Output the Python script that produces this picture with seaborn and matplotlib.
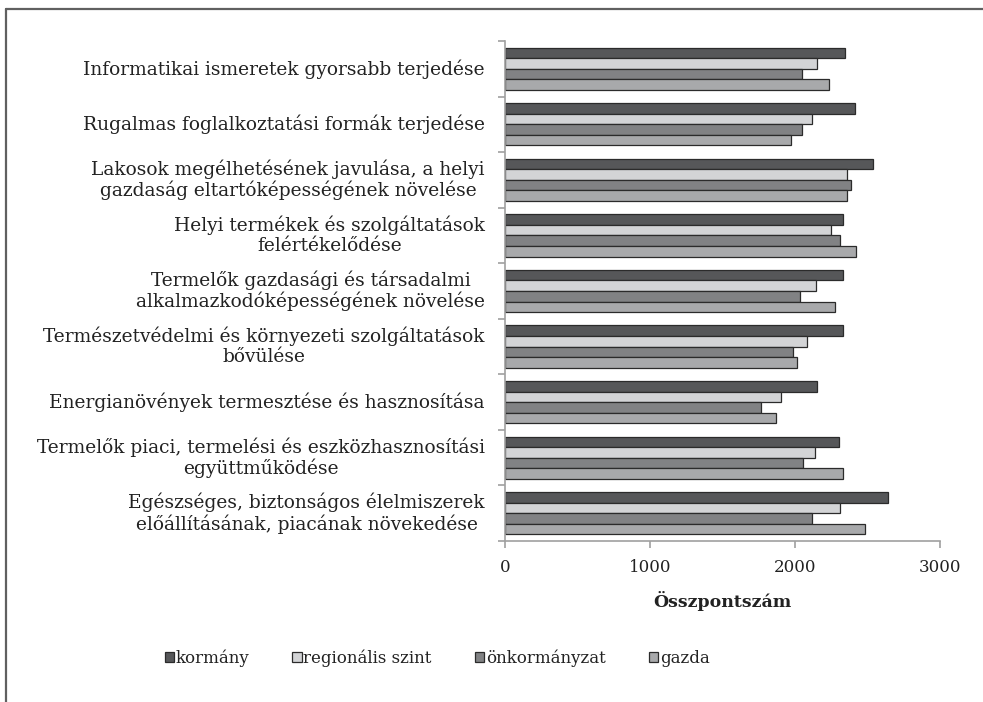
import pandas as pd
import seaborn as sns
import matplotlib.pyplot as plt
from matplotlib.lines import Line2D

categories = [
    "Informatikai ismeretek gyorsabb terjedése",
    "Rugalmas foglalkoztatási formák terjedése",
    "Lakosok megélhetésének javulása, a helyi\ngazdaság eltartóképességének növelése",
    "Helyi termékek és szolgáltatások\nfelértékelődése",
    "Termelők gazdasági és társadalmi\nalkalmazkodóképességének növelése",
    "Természetvédelmi és környezeti szolgáltatások\nbővülése",
    "Energianövények termesztése és hasznosítása",
    "Termelők piaci, termelési és eszközhasznosítási\negyüttműködése",
    "Egészséges, biztonságos élelmiszerek\nelőállításának, piacának növekedése",
]
series = ["kormány", "regionális szint", "önkormányzat", "gazda"]

kormany = [2347, 2414, 2540, 2329, 2329, 2329, 2154, 2301, 2644]
regionalis = [2154, 2117, 2356, 2246, 2145, 2080, 1906, 2136, 2313]
onkormanyzat = [2050, 2050, 2384, 2310, 2034, 1989, 1766, 2053, 2117]
gazda = [2237, 1970, 2356, 2421, 2274, 2017, 1869, 2329, 2485]

colors = ["#555759", "#d3d4d6", "#808285", "#a7a9ac"]

df = pd.DataFrame({
    "kategoria": categories * 4,
    "sorozat": [s for s in series for _ in categories],
    "ertek": kormany + regionalis + onkormanyzat + gazda,
})

sns.set_style("white")
plt.rcParams["font.family"] = ["DejaVu Serif", "Liberation Serif"]

fig = plt.figure(figsize=(9.83, 7.02), dpi=100)
ax = fig.add_axes([505 / 983, 1 - 541 / 702, 435 / 983, 500 / 702])

sns.barplot(data=df, y="kategoria", x="ertek", hue="sorozat", order=categories,
            hue_order=series, palette=colors, width=0.76, edgecolor="#2b2b2b",
            linewidth=0.9, ax=ax, legend=True)

ax.set_xlim(0, 3000)
ax.set_ylim(len(categories) - 0.5, -0.5)
ax.set_xticks([0, 1000, 2000, 3000])
ax.tick_params(axis="x", bottom=True, labelsize=12, length=5, width=1.2,
               color="#a0a0a0", pad=8, labelcolor="#222222")

# category ticks sit between groups, labels at the centers
ax.set_yticks([i - 0.5 for i in range(len(categories) + 1)])
ax.set_yticklabels([])
ax.tick_params(axis="y", left=True, length=5, width=1.2, color="#a0a0a0")
for i, lab in enumerate(categories):
    ax.text(-0.046, i, lab, transform=ax.get_yaxis_transform(), ha="right",
            va="center", multialignment="center", fontsize=13.4, color="#222222",
            linespacing=1.12)

for side in ["top", "right"]:
    ax.spines[side].set_visible(False)
for side in ["left", "bottom"]:
    ax.spines[side].set_color("#a0a0a0")
    ax.spines[side].set_linewidth(1.2)

ax.set_ylabel("")
ax.set_xlabel("Összpontszám", fontsize=12.5, fontweight="bold", labelpad=11,
              color="#222222")

handles, labels = ax.get_legend_handles_labels()
ax.legend_.remove()
fig.legend(handles, labels, loc="center", bbox_to_anchor=(437 / 983, 1 - 658 / 702),
           ncol=4, frameon=False, fontsize=12, handlelength=0.55, handleheight=0.55,
           handletextpad=0.1, columnspacing=2.6, labelcolor="#222222")

# frame around the figure (left and top visible)
fig.add_artist(Line2D([6 / 983, 6 / 983], [0, 1 - 9 / 702], color="#606060", lw=1.6))
fig.add_artist(Line2D([6 / 983, 1], [1 - 9 / 702, 1 - 9 / 702], color="#606060", lw=1.6))

fig.savefig("out.png", dpi=100)
